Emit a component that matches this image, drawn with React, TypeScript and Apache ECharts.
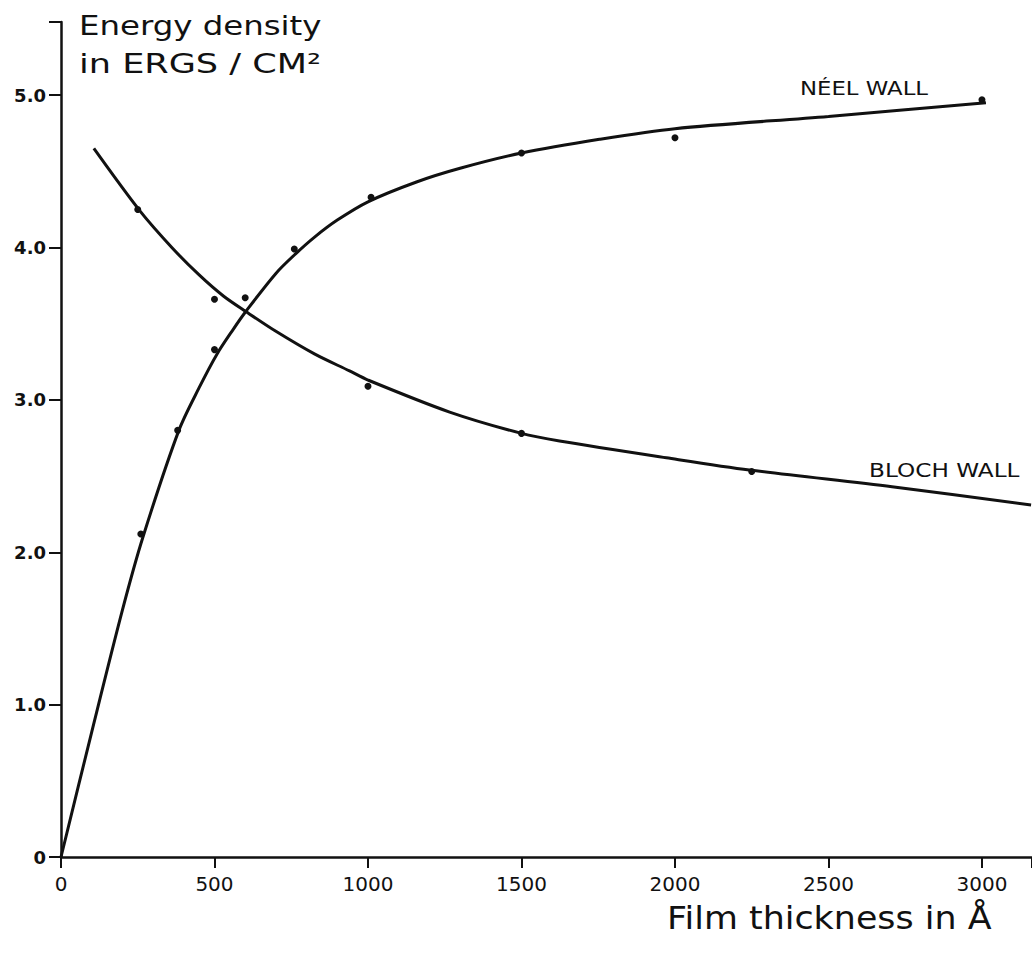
import React, { useEffect, useRef } from "react";
import * as echarts from "echarts";

// Film thickness (Å) ticks
const xTicks = [0, 500, 1000, 1500, 2000, 2500, 3000];
const yTicks = [0, 1, 2, 3, 4, 5];

// Néel wall: drawn curve (thickness Å, energy density ergs/cm²)
const neelCurveX = [0, 100, 200, 267, 384, 450, 508, 560, 602, 700, 765, 827, 900, 1000, 1158, 1300, 1500, 1754, 2000, 2500, 3013];
const neelCurveY = [0, 0.82, 1.62, 2.1, 2.8, 3.08, 3.3, 3.46, 3.58, 3.83, 3.96, 4.07, 4.18, 4.3, 4.43, 4.52, 4.62, 4.71, 4.78, 4.86, 4.95];
// Néel wall: measured points
const neelPtsX = [260, 380, 500, 600, 760, 1010, 1500, 2000, 3000];
const neelPtsY = [2.12, 2.8, 3.33, 3.67, 3.99, 4.33, 4.62, 4.72, 4.97];

// Bloch wall: drawn curve
const blochCurveX = [107, 257, 361, 450, 530, 602, 700, 827, 940, 1000, 1266, 1500, 1624, 1972, 2242, 2707, 3160];
const blochCurveY = [4.65, 4.24, 4.0, 3.82, 3.68, 3.58, 3.45, 3.3, 3.19, 3.13, 2.92, 2.78, 2.73, 2.62, 2.54, 2.43, 2.31];
// Bloch wall: measured points
const blochPtsX = [250, 500, 1000, 1500, 2250];
const blochPtsY = [4.25, 3.66, 3.09, 2.78, 2.53];

const FONT = "DejaVu Sans";

const zip = (xs: number[], ys: number[]) => xs.map((x, i) => [x, ys[i]]);

export default function App() {
  const ref = useRef<HTMLDivElement>(null);
  useEffect(() => {
    document.body.style.margin = "0";
    const chart = echarts.init(ref.current!, null, { renderer: "svg" });
    const black = "#111";
    chart.setOption({
      animation: false,
      backgroundColor: "#fff",
      grid: { left: 61, right: 0, top: 22, bottom: 96, containLabel: false },
      xAxis: {
        type: "value",
        min: 0,
        max: 3163,
        interval: 500,
        splitLine: { show: false },
        axisLine: { onZero: false, lineStyle: { color: black, width: 2.5 } },
        axisTick: {
          show: true,
          length: 11,
          lineStyle: { color: black, width: 2 },
        },
        axisLabel: {
          customValues: xTicks,
          color: black,
          fontFamily: FONT,
          fontSize: 20,
          margin: 17,
          formatter: (v: number) => String(v),
        },
      },
      yAxis: {
        type: "value",
        min: 0,
        max: 5.48,
        interval: 1,
        splitLine: { show: false },
        axisLine: { onZero: false, lineStyle: { color: black, width: 2.5 } },
        axisTick: {
          show: true,
          length: 12,
          lineStyle: { color: black, width: 2 },
        },
        axisLabel: {
          customValues: yTicks,
          color: black,
          fontFamily: FONT,
          fontSize: 18,
          fontWeight: "bold",
          margin: 15,
          formatter: (v: number) => (v === 0 ? "0" : v.toFixed(1)),
        },
      },
      series: [
        {
          name: "Néel wall",
          type: "line",
          data: zip(neelCurveX, neelCurveY),
          smooth: 0.3,
          showSymbol: false,
          lineStyle: { color: black, width: 3 },
        },
        {
          name: "Bloch wall",
          type: "line",
          data: zip(blochCurveX, blochCurveY),
          smooth: 0.3,
          showSymbol: false,
          lineStyle: { color: black, width: 3 },
        },
        {
          name: "Néel wall data",
          type: "scatter",
          data: zip(neelPtsX, neelPtsY),
          symbolSize: 7,
          itemStyle: { color: black, opacity: 1 },
        },
        {
          name: "Bloch wall data",
          type: "scatter",
          data: zip(blochPtsX, blochPtsY),
          symbolSize: 7,
          itemStyle: { color: black, opacity: 1 },
        },
      ],
      graphic: [
        {
          type: "text",
          x: 79,
          y: 25,
          scaleX: 1.2,
          style: { text: "Energy density", font: `27px '${FONT}'`, fill: black, align: "left", verticalAlign: "middle" },
        },
        {
          type: "text",
          x: 79,
          y: 64,
          scaleX: 1.3,
          style: { text: "in ERGS / CM²", font: `27px '${FONT}'`, fill: black, align: "left", verticalAlign: "middle" },
        },
        {
          type: "text",
          x: 800,
          y: 89,
          scaleX: 1.2,
          style: { text: "NÉEL WALL", font: `19px '${FONT}'`, fill: black, align: "left", verticalAlign: "middle" },
        },
        {
          type: "text",
          x: 869,
          y: 470,
          scaleX: 1.22,
          style: { text: "BLOCH WALL", font: `19px '${FONT}'`, fill: black, align: "left", verticalAlign: "middle" },
        },
        {
          type: "text",
          x: 667,
          y: 918,
          scaleX: 1.09,
          style: { text: "Film thickness in Å", font: `32px '${FONT}'`, fill: black, align: "left", verticalAlign: "middle" },
        },
      ],
    });
    return () => chart.dispose();
  }, []);
  return <div ref={ref} style={{ width: 1032, height: 953 }} />;
}
